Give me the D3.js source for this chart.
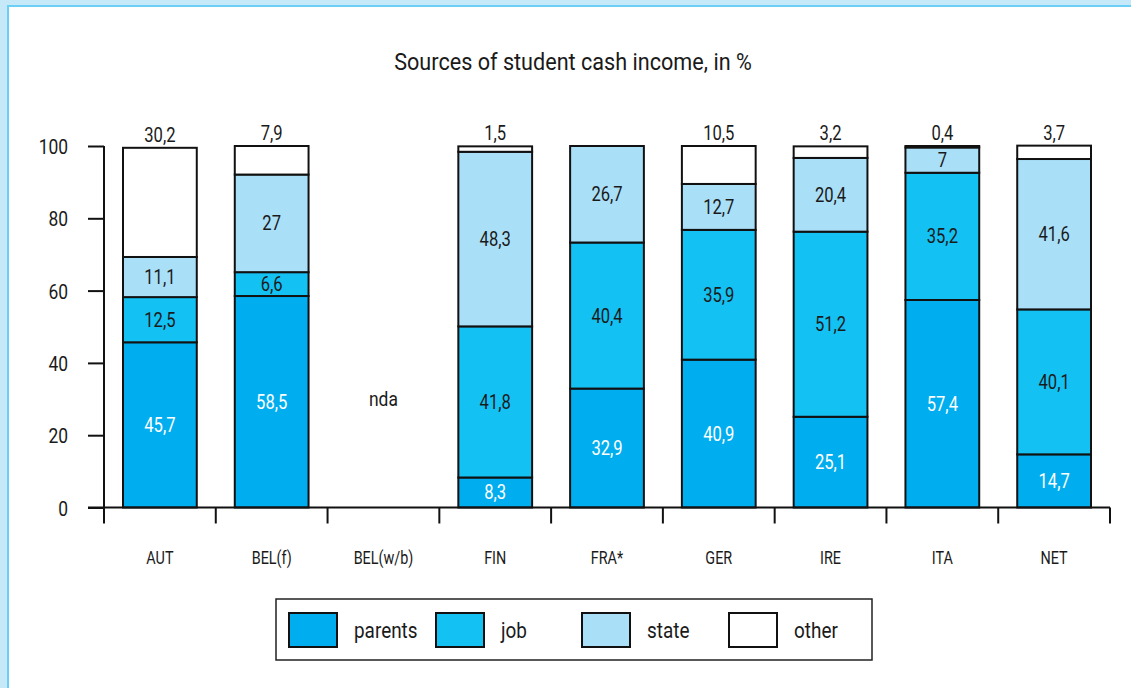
<!DOCTYPE html>
<html><head><meta charset="utf-8">
<script src="https://cdn.jsdelivr.net/npm/d3@7"></script>
<style>
html,body{margin:0;padding:0;background:#fff;}
svg{display:block;}
text{font-family:"Roboto","Liberation Sans",sans-serif;font-weight:400;}
</style></head>
<body>
<svg id="c" width="1131" height="688"></svg>
<script>
const categories = ["AUT","BEL(f)","BEL(w/b)","FIN","FRA*","GER","IRE","ITA","NET"];
const parents = [45.7, 58.5, null, 8.3, 32.9, 40.9, 25.1, 57.4, 14.7];
const job     = [12.5, 6.6, null, 41.8, 40.4, 35.9, 51.2, 35.2, 40.1];
const state   = [11.1, 27, null, 48.3, 26.7, 12.7, 20.4, 7, 41.6];
const other   = [30.2, 7.9, null, 1.5, 0, 10.5, 3.2, 0.4, 3.7];
const otherLabels = ["30,2","7,9","","1,5","","10,5","3,2","0,4","3,7"];
const seriesNames = ["parents","job","state","other"];
const yTicks = [0,20,40,60,80,100];
const title = "Sources of student cash income, in %";
const noDataLabel = "nda";

const colors = {parents:"#00aeef", job:"#14c1f3", state:"#aadff8", other:"#ffffff"};
const labelColors = {parents:"#ffffff", job:"#1a1a1a", state:"#1a1a1a"};
const seriesData = {parents, job, state, other};
const SX = 0.83;

const svg = d3.select("#c");
function addText(parent, x, y, str, size, anchor, color, sx) {
  return parent.append("text")
    .attr("transform", `translate(${x},${y}) scale(${sx===undefined?SX:sx},1)`)
    .attr("text-anchor", anchor).attr("font-size", size).attr("fill", color).text(str);
}

// frame
svg.append("rect").attr("x",0).attr("y",0).attr("width",1131).attr("height",688).attr("fill","#c6e9f9");
svg.append("rect").attr("x",7).attr("y",5).attr("width",1124).attr("height",683).attr("fill","#6ccff6");
svg.append("rect").attr("x",9).attr("y",7).attr("width",1122).attr("height",681).attr("fill","#ffffff");

addText(svg, 573, 70, title, 23, "middle", "#1a1a1a", 0.94);

const x = d3.scaleBand().domain(categories).range([104,1110]).paddingInner(0.34).paddingOuter(0.17);
const y = d3.scaleLinear().domain([0,100]).range([507.5,146]);

const fmt = v => String(v).replace(".",",");

// bars
const g = svg.append("g");
categories.forEach((c,i)=>{
  const cx = x(c)+x.bandwidth()/2;
  if (parents[i]===null) {
    addText(g, cx, y(0)-102, noDataLabel, 21, "middle", "#1a1a1a");
    return;
  }
  let base = 0;
  seriesNames.forEach(s=>{
    const v = seriesData[s][i];
    const top = base + v;
    if (v > 0 || s==="other") {
      g.append("rect").attr("x",x(c)).attr("y",y(top)).attr("width",x.bandwidth())
       .attr("height",Math.max(0,y(base)-y(top))).attr("fill",colors[s])
       .attr("stroke","#111").attr("stroke-width",2);
    }
    if (s!=="other") {
      addText(g, cx, y((base+top)/2)+7, fmt(v), 20, "middle", labelColors[s]);
    } else if (otherLabels[i]) {
      addText(g, cx, y(top)-6, otherLabels[i], 20, "middle", "#1a1a1a");
    }
    base = top;
  });
});

// y axis
const ya = svg.append("g").attr("transform","translate(104,0)")
  .call(d3.axisLeft(y).tickValues(yTicks).tickSize(16).tickFormat(d=>d));
ya.select(".domain").attr("stroke","#111").attr("stroke-width",2).attr("d","M0,"+y(100)+"V"+y(0));
ya.selectAll(".tick line").attr("stroke","#111").attr("stroke-width",2);
ya.selectAll(".tick text")
  .attr("x", -36/SX).attr("dy","0.36em").attr("transform",`scale(${SX},1)`)
  .attr("font-size",21).attr("fill","#1a1a1a")
  .attr("font-family","Roboto, sans-serif").attr("font-weight",400);

// x axis
const xa = svg.append("g");
xa.append("line").attr("x1",88).attr("x2",1110).attr("y1",y(0)).attr("y2",y(0)).attr("stroke","#111").attr("stroke-width",2);
const stepAll = (x.range()[1]-x.range()[0])/categories.length;
const edges = d3.range(categories.length+1).map(i=>x.range()[0] + i*stepAll);
xa.selectAll(".xt").data(edges).enter().append("line").attr("x1",d=>d).attr("x2",d=>d)
  .attr("y1",y(0)).attr("y2",y(0)+16).attr("stroke","#111").attr("stroke-width",2);
categories.forEach(c=>{
  addText(xa, x(c)+x.bandwidth()/2, 564, c, 18, "middle", "#1a1a1a", 0.8);
});

// legend
const lg = svg.append("g");
lg.append("rect").attr("x",276).attr("y",599).attr("width",596).attr("height",61)
  .attr("fill","#fff").attr("stroke","#222").attr("stroke-width",1.5);
const legX = [289,436,582,729];
seriesNames.forEach((s,i)=>{
  lg.append("rect").attr("x",legX[i]).attr("y",613).attr("width",48).attr("height",34)
    .attr("fill",colors[s]).attr("stroke","#111").attr("stroke-width",2);
  addText(lg, legX[i]+65, 638, s, 22, "start", "#1a1a1a", 0.86);
});
</script>
</body></html>
